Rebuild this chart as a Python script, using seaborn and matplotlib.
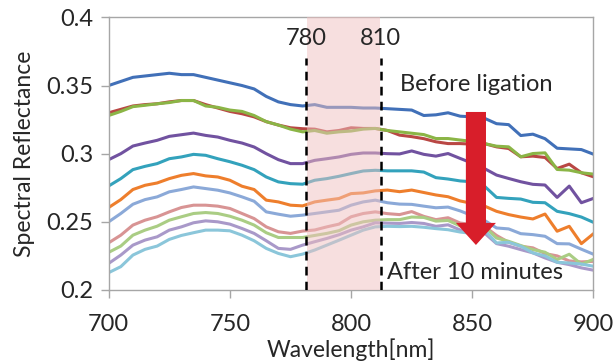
import numpy as np
import pandas as pd
import seaborn as sns
import matplotlib.pyplot as plt

# wavelength axis (nm), one reading every 5 nm
wavelength = list(range(700, 905, 5))

s01 = [.350, .353, .356, .357, .358, .359, .358, .358, .356, .354, .352, .350, .3475, .342, .338, .336, .335,
       .336, .334, .334, .334, .3335, .3335, .333, .3325, .332, .328, .3285, .330, .3275, .327, .326, .322,
       .3213, .3133, .3143, .311, .304, .3035, .303, .2996]
s02 = [.330, .3325, .335, .336, .3366, .338, .339, .339, .336, .3335, .331, .3293, .327, .3235, .321, .319, .3183,
       .318, .316, .317, .319, .3185, .3185, .317, .3136, .3125, .311, .3087, .3074, .3074, .307, .3074, .305,
       .3038, .2977, .2982, .2972, .2891, .2923, .286, .283]
s03 = [.328, .331, .3345, .3355, .3366, .3375, .339, .339, .335, .334, .332, .331, .328, .3235, .321, .318, .316,
       .317, .315, .316, .3166, .318, .3185, .317, .316, .315, .314, .3111, .3111, .310, .309, .3074, .3055,
       .305, .2977, .3001, .3006, .2884, .2879, .286, .285]
s04 = [.2956, .300, .3056, .3078, .3098, .3127, .3139, .3151, .3134, .3122, .3098, .3078, .3049, .300, .2956,
       .2927, .2927, .2951, .2963, .2976, .2995, .3005, .3005, .300, .2998, .302, .2995, .2982, .3001, .2965,
       .293, .2891, .2843, .2818, .2794, .2775, .277, .2679, .2762, .264, .2672]
s05 = [.2763, .2817, .2883, .2907, .2927, .2963, .2976, .2995, .2988, .2963, .2941, .2915, .2883, .2829, .2793,
       .278, .2776, .2805, .2817, .2834, .2854, .2873, .2878, .2874, .2874, .2874, .2865, .2824, .2814, .280,
       .2794, .2762, .2679, .2672, .2667, .2643, .264, .2577, .256, .2535, .2496]
s06 = [.2605, .2663, .2737, .2768, .2785, .2817, .2841, .2854, .2837, .2829, .2805, .2761, .2737, .2659, .2646,
       .2622, .2617, .2646, .2659, .2671, .2707, .2712, .2727, .2733, .2721, .2733, .2715, .2697, .2684, .2653,
       .2635, .2616, .2577, .2553, .2535, .2521, .2557, .2431, .2467, .234, .2413]
s07 = [.250, .2561, .2629, .2663, .2683, .272, .2737, .2756, .2744, .2732, .2712, .2683, .2651, .2573, .2556,
       .2541, .2549, .2561, .2573, .2585, .2622, .2646, .2659, .264, .263, .2628, .2615, .2603, .2608, .258,
       .2545, .2511, .2455, .2448, .2413, .2406, .2394, .234, .2338, .2299, .2262]
s08 = [.2346, .2402, .2476, .2512, .2537, .2573, .2605, .2622, .2622, .2615, .2598, .2561, .2524, .2463, .2427,
       .2415, .2432, .244, .2463, .2483, .2537, .2561, .2573, .256, .2553, .2575, .254, .2516, .253, .2491,
       .248, .2467, .240, .235, .2321, .2309, .2267, .225, .2213, .2206, .221]
s09 = [.2276, .2322, .2402, .2439, .2468, .2512, .2537, .2561, .2568, .2561, .2541, .2512, .2476, .242, .2385,
       .2385, .2385, .240, .2415, .2435, .2476, .250, .2512, .2516, .2516, .2535, .2532, .2505, .251, .247,
       .246, .2467, .2381, .2357, .2326, .2296, .2277, .2223, .2262, .2189, .2225]
s10 = [.2195, .2256, .2329, .2366, .239, .2439, .2463, .2493, .2507, .250, .2483, .2451, .2415, .2361, .2305,
       .2298, .2329, .2354, .2378, .2405, .2439, .2463, .2493, .249, .2488, .2495, .2488, .2467, .2478, .244,
       .243, .2418, .234, .2321, .2296, .2272, .2235, .2203, .2186, .2162, .2145]
s11 = [.2127, .2171, .2256, .2298, .2322, .2371, .240, .242, .2439, .2439, .2434, .2402, .2361, .2305, .2268,
       .2244, .2263, .2293, .2329, .2365, .2402, .2439, .2463, .2467, .2465, .2467, .246, .245, .2442, .2425,
       .2415, .244, .2345, .235, .2321, .2272, .225, .2203, .2198, .219, .2174]

series = [s01, s02, s03, s04, s05, s06, s07, s08, s09, s10, s11]
names = ["t%02d" % (i + 1) for i in range(len(series))]
colors = ["#4170B8", "#B94744", "#8BB546", "#7152A0", "#33A2BC", "#EE7E2C",
          "#8BA9D8", "#D89494", "#AACD84", "#A999C9", "#8BC6DA"]

band = (782, 812)
marks = [781.5, 812.3]
mark_labels = ["780", "810"]

df = pd.concat([pd.DataFrame({"wl": wavelength, "r": s, "run": n}) for s, n in zip(series, names)])

sns.set_style("white")
plt.rcParams["font.family"] = ["Lato", "DejaVu Sans"]

fig = plt.figure(figsize=(6.14, 3.62), dpi=100)
ax = fig.add_axes([0.177, 0.199, 0.7896, 0.753])

sns.lineplot(data=df, x="wl", y="r", hue="run", hue_order=names, palette=colors,
             linewidth=2.2, legend=False, ax=ax, estimator=None, sort=False)

# shaded band drawn over the curves
ax.axvspan(band[0], band[1], color="#F0C0C0", alpha=0.5, lw=0, zorder=5)
for m, lab in zip(marks, mark_labels):
    ax.plot([m, m], [0.2, 0.370], color="black", ls=(0, (3.5, 2.5)), lw=1.8, zorder=6)
    ax.text(m, 0.3845, lab, ha="center", va="center", fontsize=17, zorder=7)

ax.arrow(851.5, 0.3306, 0, 0.233 - 0.3306, width=8.3, head_width=16.5, head_length=0.0162,
         length_includes_head=True, color="#D81E2A", lw=0, zorder=8)

ax.text(820.0, 0.3509, "Before ligation", ha="left", va="center", fontsize=17, zorder=9)
ax.text(815.0, 0.2125, "After 10 minutes", ha="left", va="center", fontsize=17, zorder=9)

ax.set_xlim(700, 900)
ax.set_ylim(0.2, 0.4)
ax.set_xticks([700, 750, 800, 850, 900])
ax.set_yticks([0.2, 0.25, 0.3, 0.35, 0.4])
ax.set_yticklabels(["0.2", "0.25", "0.3", "0.35", "0.4"])
ax.set_xlabel("Wavelength[nm]", fontsize=16.5, labelpad=3)
ax.set_ylabel("Spectral Reflectance", fontsize=16.5, labelpad=8)
ax.tick_params(axis="both", labelsize=17, direction="out", length=6, width=1,
               color="#A6A6A6", pad=5, left=True, bottom=True)
ax.tick_params(axis="x", pad=11)
for sp in ax.spines.values():
    sp.set_color("#A6A6A6")
    sp.set_linewidth(1)

fig.savefig("out.png", dpi=100)
